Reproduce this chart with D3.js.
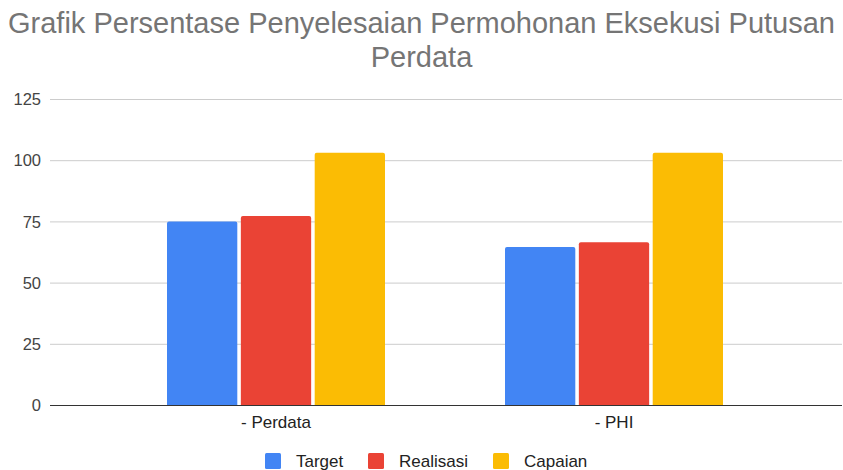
<!DOCTYPE html>
<html>
<head>
<meta charset="utf-8">
<script src="https://cdn.jsdelivr.net/npm/d3@7"></script>
<style>
  body { margin: 0; background: #fff; }
  text { font-family: "Liberation Sans", Arial, sans-serif; }
</style>
</head>
<body>
<svg id="chart" width="843" height="470"></svg>
<script>
// data
var categories = ["- Perdata", "- PHI"];
var seriesNames = ["Target", "Realisasi", "Capaian"];
var target = [75, 64.5];
var realisasi = [77.2, 66.5];
var capaian = [103, 103];
var yTicks = [0, 25, 50, 75, 100, 125];
var titleLines = ["Grafik Persentase Penyelesaian Permohonan Eksekusi Putusan", "Perdata"];

var colors = {Target: "#4285f4", Realisasi: "#ea4335", Capaian: "#fbbc04"};
var seriesValues = {Target: target, Realisasi: realisasi, Capaian: capaian};

var svg = d3.select("#chart");

var gridLeft = 50, gridRight = 842;

var y = d3.scaleLinear().domain([0, 125]).range([405, 99]);
var x0 = d3.scaleBand().domain(categories).range([107, 783]).padding(0);
var x1 = d3.scaleBand().domain(seriesNames)
    .range([60, x0.bandwidth() - 60]).paddingInner(0.048);

// title
svg.append("g").selectAll("text")
    .data(titleLines)
  .enter().append("text")
    .attr("x", 421.5)
    .attr("y", function(d, i) { return 33 + i * 34; })
    .attr("text-anchor", "middle")
    .attr("font-size", 29)
    .attr("fill", "#757575")
    .text(function(d) { return d; });

// gridlines
svg.append("g").selectAll("line")
    .data(yTicks.filter(function(d) { return d > 0; }))
  .enter().append("line")
    .attr("x1", gridLeft).attr("x2", gridRight)
    .attr("y1", function(d) { return y(d) + 0.5; })
    .attr("y2", function(d) { return y(d) + 0.5; })
    .attr("stroke", "#cccccc");

// y axis labels
var yAxis = d3.axisLeft(y).tickValues(yTicks).tickSize(0).tickPadding(0);
var yg = svg.append("g").attr("transform", "translate(41,0)").call(yAxis);
yg.select(".domain").remove();
yg.selectAll("text").attr("font-size", 16.5).attr("fill", "#444").attr("dy", "0.35em")
    .style("font-family", "'Liberation Sans', Arial, sans-serif");

// bars
function barPath(x, w, top, bottom) {
  var r = 2;
  return "M" + x + "," + bottom +
         "V" + (top + r) +
         "Q" + x + "," + top + " " + (x + r) + "," + top +
         "H" + (x + w - r) +
         "Q" + (x + w) + "," + top + " " + (x + w) + "," + (top + r) +
         "V" + bottom + "Z";
}

var groups = svg.append("g").selectAll("g")
    .data(categories)
  .enter().append("g")
    .attr("transform", function(d) { return "translate(" + x0(d) + ",0)"; });

groups.selectAll("path")
    .data(function(d, i) {
      return seriesNames.map(function(s) { return {s: s, v: seriesValues[s][i]}; });
    })
  .enter().append("path")
    .attr("d", function(d) { return barPath(x1(d.s), x1.bandwidth(), y(d.v), y(0)); })
    .attr("fill", function(d) { return colors[d.s]; });

// baseline
svg.append("line")
    .attr("x1", gridLeft).attr("x2", gridRight)
    .attr("y1", y(0) + 0.5).attr("y2", y(0) + 0.5)
    .attr("stroke", "#333").attr("stroke-width", 1.2);

// x axis labels
var xAxis = d3.axisBottom(x0).tickSize(0).tickPadding(0);
var xg = svg.append("g").attr("transform", "translate(0,428)").call(xAxis);
xg.select(".domain").remove();
xg.selectAll("text").attr("font-size", 17).attr("fill", "#222").attr("dy", 0)
    .style("font-family", "'Liberation Sans', Arial, sans-serif");

// legend
var legendX = [265, 368, 493];
var legend = svg.append("g").selectAll("g")
    .data(seriesNames)
  .enter().append("g")
    .attr("transform", function(d, i) { return "translate(" + legendX[i] + ",453)"; });
legend.append("rect")
    .attr("width", 16).attr("height", 16).attr("rx", 1.5)
    .attr("fill", function(d) { return colors[d]; });
legend.append("text")
    .attr("x", 31).attr("y", 14)
    .attr("font-size", 17).attr("fill", "#222")
    .text(function(d) { return d; });
</script>
</body>
</html>
